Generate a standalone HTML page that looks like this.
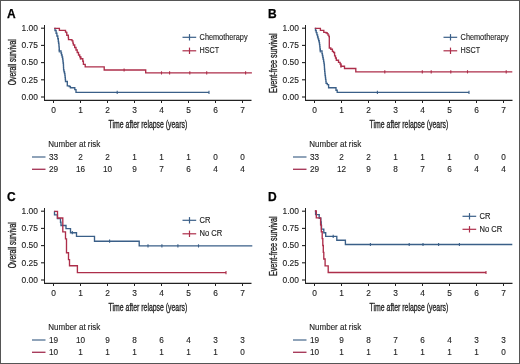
<!DOCTYPE html>
<html><head><meta charset="utf-8"><style>
html,body{margin:0;padding:0;background:#fff;}
svg{display:block;filter:blur(0.30px);font-family:"Liberation Sans",sans-serif;}
</style></head><body>
<svg width="520" height="364" viewBox="0 0 520 364">
<rect x="0" y="0" width="520" height="364" fill="#fff"/>
<g transform="translate(0,0)"><text x="7.1" y="17.5" font-size="12" font-weight="bold" fill="#000" stroke="#000" stroke-width="0.25">A</text><path d="M44.5,25V100.3" fill="none" stroke="#222" stroke-width="1"/><path d="M44,100.3H251.5" fill="none" stroke="#222" stroke-width="1.3"/><line x1="41" y1="28.20" x2="44.5" y2="28.20" stroke="#222" stroke-width="1.1"/><text x="37.90" y="31.00" font-size="8.82" textLength="16.35" lengthAdjust="spacingAndGlyphs" text-anchor="end" fill="#222" stroke="#222" stroke-width="0.12">1.00</text><line x1="41" y1="45.40" x2="44.5" y2="45.40" stroke="#222" stroke-width="1.1"/><text x="37.90" y="48.20" font-size="8.82" textLength="16.35" lengthAdjust="spacingAndGlyphs" text-anchor="end" fill="#222" stroke="#222" stroke-width="0.12">0.75</text><line x1="41" y1="62.60" x2="44.5" y2="62.60" stroke="#222" stroke-width="1.1"/><text x="37.90" y="65.40" font-size="8.82" textLength="16.35" lengthAdjust="spacingAndGlyphs" text-anchor="end" fill="#222" stroke="#222" stroke-width="0.12">0.50</text><line x1="41" y1="79.80" x2="44.5" y2="79.80" stroke="#222" stroke-width="1.1"/><text x="37.90" y="82.60" font-size="8.82" textLength="16.35" lengthAdjust="spacingAndGlyphs" text-anchor="end" fill="#222" stroke="#222" stroke-width="0.12">0.25</text><line x1="41" y1="97.00" x2="44.5" y2="97.00" stroke="#222" stroke-width="1.1"/><text x="37.90" y="99.80" font-size="8.82" textLength="16.35" lengthAdjust="spacingAndGlyphs" text-anchor="end" fill="#222" stroke="#222" stroke-width="0.12">0.00</text><line x1="53.5" y1="100.5" x2="53.5" y2="103" stroke="#222" stroke-width="1"/><text x="53.50" y="113.30" font-size="8.82" textLength="4.67" lengthAdjust="spacingAndGlyphs" text-anchor="middle" fill="#222" stroke="#222" stroke-width="0.12">0</text><line x1="80.5" y1="100.5" x2="80.5" y2="103" stroke="#222" stroke-width="1"/><text x="80.50" y="113.30" font-size="8.82" textLength="4.67" lengthAdjust="spacingAndGlyphs" text-anchor="middle" fill="#222" stroke="#222" stroke-width="0.12">1</text><line x1="107.5" y1="100.5" x2="107.5" y2="103" stroke="#222" stroke-width="1"/><text x="107.50" y="113.30" font-size="8.82" textLength="4.67" lengthAdjust="spacingAndGlyphs" text-anchor="middle" fill="#222" stroke="#222" stroke-width="0.12">2</text><line x1="134.5" y1="100.5" x2="134.5" y2="103" stroke="#222" stroke-width="1"/><text x="134.50" y="113.30" font-size="8.82" textLength="4.67" lengthAdjust="spacingAndGlyphs" text-anchor="middle" fill="#222" stroke="#222" stroke-width="0.12">3</text><line x1="161.5" y1="100.5" x2="161.5" y2="103" stroke="#222" stroke-width="1"/><text x="161.50" y="113.30" font-size="8.82" textLength="4.67" lengthAdjust="spacingAndGlyphs" text-anchor="middle" fill="#222" stroke="#222" stroke-width="0.12">4</text><line x1="188.5" y1="100.5" x2="188.5" y2="103" stroke="#222" stroke-width="1"/><text x="188.50" y="113.30" font-size="8.82" textLength="4.67" lengthAdjust="spacingAndGlyphs" text-anchor="middle" fill="#222" stroke="#222" stroke-width="0.12">5</text><line x1="215.5" y1="100.5" x2="215.5" y2="103" stroke="#222" stroke-width="1"/><text x="215.50" y="113.30" font-size="8.82" textLength="4.67" lengthAdjust="spacingAndGlyphs" text-anchor="middle" fill="#222" stroke="#222" stroke-width="0.12">6</text><line x1="242.5" y1="100.5" x2="242.5" y2="103" stroke="#222" stroke-width="1"/><text x="242.50" y="113.30" font-size="8.82" textLength="4.67" lengthAdjust="spacingAndGlyphs" text-anchor="middle" fill="#222" stroke="#222" stroke-width="0.12">7</text><text x="108.6" y="127.6" font-size="10.3" textLength="78.6" lengthAdjust="spacingAndGlyphs" fill="#222" stroke="#222" stroke-width="0.32">Time after relapse (years)</text><text transform="translate(15.6,62.2) rotate(-90)" x="0" y="0" font-size="10.3" textLength="46.0" lengthAdjust="spacingAndGlyphs" text-anchor="middle" fill="#222" stroke="#222" stroke-width="0.32">Overall survival</text><line x1="182.5" y1="37.3" x2="196.2" y2="37.3" stroke="#3a5f88" stroke-width="1.2"/><line x1="189.5" y1="34.1" x2="189.5" y2="40.5" stroke="#3a5f88" stroke-width="1.2"/><text x="199.60" y="39.80" font-size="8.29" textLength="48.00" lengthAdjust="spacingAndGlyphs" text-anchor="start" fill="#222" stroke="#222" stroke-width="0.12">Chemotherapy</text><line x1="182.5" y1="50.8" x2="196.2" y2="50.8" stroke="#ad2e4a" stroke-width="1.2"/><line x1="189.5" y1="47.6" x2="189.5" y2="54.0" stroke="#ad2e4a" stroke-width="1.2"/><text x="199.60" y="53.30" font-size="8.29" textLength="19.60" lengthAdjust="spacingAndGlyphs" text-anchor="start" fill="#222" stroke="#222" stroke-width="0.12">HSCT</text><text x="48.30" y="147.00" font-size="8.40" textLength="52.00" lengthAdjust="spacingAndGlyphs" text-anchor="start" fill="#222" stroke="#222" stroke-width="0.12">Number at risk</text><line x1="32" y1="157.0" x2="45.5" y2="157.0" stroke="#6a84a2" stroke-width="1.5"/><text x="53.50" y="159.50" font-size="8.61" textLength="9.12" lengthAdjust="spacingAndGlyphs" text-anchor="middle" fill="#222" stroke="#222" stroke-width="0.12">33</text><text x="80.50" y="159.50" font-size="8.61" textLength="4.56" lengthAdjust="spacingAndGlyphs" text-anchor="middle" fill="#222" stroke="#222" stroke-width="0.12">2</text><text x="107.50" y="159.50" font-size="8.61" textLength="4.56" lengthAdjust="spacingAndGlyphs" text-anchor="middle" fill="#222" stroke="#222" stroke-width="0.12">2</text><text x="134.50" y="159.50" font-size="8.61" textLength="4.56" lengthAdjust="spacingAndGlyphs" text-anchor="middle" fill="#222" stroke="#222" stroke-width="0.12">1</text><text x="161.50" y="159.50" font-size="8.61" textLength="4.56" lengthAdjust="spacingAndGlyphs" text-anchor="middle" fill="#222" stroke="#222" stroke-width="0.12">1</text><text x="188.50" y="159.50" font-size="8.61" textLength="4.56" lengthAdjust="spacingAndGlyphs" text-anchor="middle" fill="#222" stroke="#222" stroke-width="0.12">1</text><text x="215.50" y="159.50" font-size="8.61" textLength="4.56" lengthAdjust="spacingAndGlyphs" text-anchor="middle" fill="#222" stroke="#222" stroke-width="0.12">0</text><text x="242.50" y="159.50" font-size="8.61" textLength="4.56" lengthAdjust="spacingAndGlyphs" text-anchor="middle" fill="#222" stroke="#222" stroke-width="0.12">0</text><line x1="32" y1="169.3" x2="45.5" y2="169.3" stroke="#a83c5c" stroke-width="1.4"/><text x="53.50" y="171.80" font-size="8.61" textLength="9.12" lengthAdjust="spacingAndGlyphs" text-anchor="middle" fill="#222" stroke="#222" stroke-width="0.12">29</text><text x="80.50" y="171.80" font-size="8.61" textLength="9.12" lengthAdjust="spacingAndGlyphs" text-anchor="middle" fill="#222" stroke="#222" stroke-width="0.12">16</text><text x="107.50" y="171.80" font-size="8.61" textLength="9.12" lengthAdjust="spacingAndGlyphs" text-anchor="middle" fill="#222" stroke="#222" stroke-width="0.12">10</text><text x="134.50" y="171.80" font-size="8.61" textLength="4.56" lengthAdjust="spacingAndGlyphs" text-anchor="middle" fill="#222" stroke="#222" stroke-width="0.12">9</text><text x="161.50" y="171.80" font-size="8.61" textLength="4.56" lengthAdjust="spacingAndGlyphs" text-anchor="middle" fill="#222" stroke="#222" stroke-width="0.12">7</text><text x="188.50" y="171.80" font-size="8.61" textLength="4.56" lengthAdjust="spacingAndGlyphs" text-anchor="middle" fill="#222" stroke="#222" stroke-width="0.12">6</text><text x="215.50" y="171.80" font-size="8.61" textLength="4.56" lengthAdjust="spacingAndGlyphs" text-anchor="middle" fill="#222" stroke="#222" stroke-width="0.12">4</text><text x="242.50" y="171.80" font-size="8.61" textLength="4.56" lengthAdjust="spacingAndGlyphs" text-anchor="middle" fill="#222" stroke="#222" stroke-width="0.12">4</text></g><path d="M54.3,28.5H55.0V30.5H56.1V33.2H56.9V36.0H57.8V38.7H58.3V41.5H58.6V43.2H58.9V45.0H59.0V46.9H59.2V48.9H59.3V50.8H61.0V53.0H61.5V55.0H62.1V57.0H62.6V59.0H62.9V61.0H63.1V63.0H63.4V65.0H63.5V67.4H63.6V69.8H64.0V71.7H64.5V73.5H64.9V75.4H65.1V77.4H65.3V79.5H65.5V81.5H67.3V85.9H69.2V86.5H70.4V87.7H74.1H74.8V89.6H76.0V92.4H209.0" fill="none" stroke="#3a5f88" stroke-width="1.35"/><line x1="59.3" y1="49.2" x2="59.3" y2="52.4" stroke="#3a5f88" stroke-width="1.1"/><line x1="117.2" y1="90.8" x2="117.2" y2="94.0" stroke="#3a5f88" stroke-width="1.1"/><line x1="209.0" y1="90.8" x2="209.0" y2="94.0" stroke="#3a5f88" stroke-width="1.1"/><path d="M54.2,28.4H59.4V30.3H65.5V32.1H66.6V32.7H66.8V35.2H68.2V35.4H68.3V37.5H68.5V39.6H71.2V39.8H72.1V40.9H72.9V43.1H73.4V45.0H74.7V47.5H76.0V50.0H77.2V52.5H78.5V55.0H79.7V56.9H80.9V58.7H82.8V61.2H83.4V64.3H85.2V66.9H104.2V70.0H145.7V72.9H251.9" fill="none" stroke="#ad2e4a" stroke-width="1.35"/><line x1="80.3" y1="56.2" x2="80.3" y2="59.4" stroke="#ad2e4a" stroke-width="1.1"/><line x1="124.1" y1="68.4" x2="124.1" y2="71.6" stroke="#ad2e4a" stroke-width="1.1"/><line x1="161.5" y1="71.3" x2="161.5" y2="74.5" stroke="#ad2e4a" stroke-width="1.1"/><line x1="169.6" y1="71.3" x2="169.6" y2="74.5" stroke="#ad2e4a" stroke-width="1.1"/><line x1="189.8" y1="71.3" x2="189.8" y2="74.5" stroke="#ad2e4a" stroke-width="1.1"/><line x1="206.7" y1="71.3" x2="206.7" y2="74.5" stroke="#ad2e4a" stroke-width="1.1"/><line x1="245.6" y1="71.3" x2="245.6" y2="74.5" stroke="#ad2e4a" stroke-width="1.1"/><g transform="translate(261,0)"><text x="7.1" y="17.5" font-size="12" font-weight="bold" fill="#000" stroke="#000" stroke-width="0.25">B</text><path d="M44.5,25V100.3" fill="none" stroke="#222" stroke-width="1"/><path d="M44,100.3H251.5" fill="none" stroke="#222" stroke-width="1.3"/><line x1="41" y1="28.20" x2="44.5" y2="28.20" stroke="#222" stroke-width="1.1"/><text x="37.90" y="31.00" font-size="8.82" textLength="16.35" lengthAdjust="spacingAndGlyphs" text-anchor="end" fill="#222" stroke="#222" stroke-width="0.12">1.00</text><line x1="41" y1="45.40" x2="44.5" y2="45.40" stroke="#222" stroke-width="1.1"/><text x="37.90" y="48.20" font-size="8.82" textLength="16.35" lengthAdjust="spacingAndGlyphs" text-anchor="end" fill="#222" stroke="#222" stroke-width="0.12">0.75</text><line x1="41" y1="62.60" x2="44.5" y2="62.60" stroke="#222" stroke-width="1.1"/><text x="37.90" y="65.40" font-size="8.82" textLength="16.35" lengthAdjust="spacingAndGlyphs" text-anchor="end" fill="#222" stroke="#222" stroke-width="0.12">0.50</text><line x1="41" y1="79.80" x2="44.5" y2="79.80" stroke="#222" stroke-width="1.1"/><text x="37.90" y="82.60" font-size="8.82" textLength="16.35" lengthAdjust="spacingAndGlyphs" text-anchor="end" fill="#222" stroke="#222" stroke-width="0.12">0.25</text><line x1="41" y1="97.00" x2="44.5" y2="97.00" stroke="#222" stroke-width="1.1"/><text x="37.90" y="99.80" font-size="8.82" textLength="16.35" lengthAdjust="spacingAndGlyphs" text-anchor="end" fill="#222" stroke="#222" stroke-width="0.12">0.00</text><line x1="53.5" y1="100.5" x2="53.5" y2="103" stroke="#222" stroke-width="1"/><text x="53.50" y="113.30" font-size="8.82" textLength="4.67" lengthAdjust="spacingAndGlyphs" text-anchor="middle" fill="#222" stroke="#222" stroke-width="0.12">0</text><line x1="80.5" y1="100.5" x2="80.5" y2="103" stroke="#222" stroke-width="1"/><text x="80.50" y="113.30" font-size="8.82" textLength="4.67" lengthAdjust="spacingAndGlyphs" text-anchor="middle" fill="#222" stroke="#222" stroke-width="0.12">1</text><line x1="107.5" y1="100.5" x2="107.5" y2="103" stroke="#222" stroke-width="1"/><text x="107.50" y="113.30" font-size="8.82" textLength="4.67" lengthAdjust="spacingAndGlyphs" text-anchor="middle" fill="#222" stroke="#222" stroke-width="0.12">2</text><line x1="134.5" y1="100.5" x2="134.5" y2="103" stroke="#222" stroke-width="1"/><text x="134.50" y="113.30" font-size="8.82" textLength="4.67" lengthAdjust="spacingAndGlyphs" text-anchor="middle" fill="#222" stroke="#222" stroke-width="0.12">3</text><line x1="161.5" y1="100.5" x2="161.5" y2="103" stroke="#222" stroke-width="1"/><text x="161.50" y="113.30" font-size="8.82" textLength="4.67" lengthAdjust="spacingAndGlyphs" text-anchor="middle" fill="#222" stroke="#222" stroke-width="0.12">4</text><line x1="188.5" y1="100.5" x2="188.5" y2="103" stroke="#222" stroke-width="1"/><text x="188.50" y="113.30" font-size="8.82" textLength="4.67" lengthAdjust="spacingAndGlyphs" text-anchor="middle" fill="#222" stroke="#222" stroke-width="0.12">5</text><line x1="215.5" y1="100.5" x2="215.5" y2="103" stroke="#222" stroke-width="1"/><text x="215.50" y="113.30" font-size="8.82" textLength="4.67" lengthAdjust="spacingAndGlyphs" text-anchor="middle" fill="#222" stroke="#222" stroke-width="0.12">6</text><line x1="242.5" y1="100.5" x2="242.5" y2="103" stroke="#222" stroke-width="1"/><text x="242.50" y="113.30" font-size="8.82" textLength="4.67" lengthAdjust="spacingAndGlyphs" text-anchor="middle" fill="#222" stroke="#222" stroke-width="0.12">7</text><text x="108.6" y="127.6" font-size="10.3" textLength="78.6" lengthAdjust="spacingAndGlyphs" fill="#222" stroke="#222" stroke-width="0.32">Time after relapse (years)</text><text transform="translate(15.6,63.3) rotate(-90)" x="0" y="0" font-size="10.3" textLength="59.6" lengthAdjust="spacingAndGlyphs" text-anchor="middle" fill="#222" stroke="#222" stroke-width="0.32">Event-free survival</text><line x1="182.5" y1="37.3" x2="196.2" y2="37.3" stroke="#3a5f88" stroke-width="1.2"/><line x1="189.5" y1="34.1" x2="189.5" y2="40.5" stroke="#3a5f88" stroke-width="1.2"/><text x="199.60" y="39.80" font-size="8.29" textLength="48.00" lengthAdjust="spacingAndGlyphs" text-anchor="start" fill="#222" stroke="#222" stroke-width="0.12">Chemotherapy</text><line x1="182.5" y1="50.8" x2="196.2" y2="50.8" stroke="#ad2e4a" stroke-width="1.2"/><line x1="189.5" y1="47.6" x2="189.5" y2="54.0" stroke="#ad2e4a" stroke-width="1.2"/><text x="199.60" y="53.30" font-size="8.29" textLength="19.60" lengthAdjust="spacingAndGlyphs" text-anchor="start" fill="#222" stroke="#222" stroke-width="0.12">HSCT</text><text x="48.30" y="147.00" font-size="8.40" textLength="52.00" lengthAdjust="spacingAndGlyphs" text-anchor="start" fill="#222" stroke="#222" stroke-width="0.12">Number at risk</text><line x1="32" y1="157.0" x2="45.5" y2="157.0" stroke="#6a84a2" stroke-width="1.5"/><text x="53.50" y="159.50" font-size="8.61" textLength="9.12" lengthAdjust="spacingAndGlyphs" text-anchor="middle" fill="#222" stroke="#222" stroke-width="0.12">33</text><text x="80.50" y="159.50" font-size="8.61" textLength="4.56" lengthAdjust="spacingAndGlyphs" text-anchor="middle" fill="#222" stroke="#222" stroke-width="0.12">2</text><text x="107.50" y="159.50" font-size="8.61" textLength="4.56" lengthAdjust="spacingAndGlyphs" text-anchor="middle" fill="#222" stroke="#222" stroke-width="0.12">2</text><text x="134.50" y="159.50" font-size="8.61" textLength="4.56" lengthAdjust="spacingAndGlyphs" text-anchor="middle" fill="#222" stroke="#222" stroke-width="0.12">1</text><text x="161.50" y="159.50" font-size="8.61" textLength="4.56" lengthAdjust="spacingAndGlyphs" text-anchor="middle" fill="#222" stroke="#222" stroke-width="0.12">1</text><text x="188.50" y="159.50" font-size="8.61" textLength="4.56" lengthAdjust="spacingAndGlyphs" text-anchor="middle" fill="#222" stroke="#222" stroke-width="0.12">1</text><text x="215.50" y="159.50" font-size="8.61" textLength="4.56" lengthAdjust="spacingAndGlyphs" text-anchor="middle" fill="#222" stroke="#222" stroke-width="0.12">0</text><text x="242.50" y="159.50" font-size="8.61" textLength="4.56" lengthAdjust="spacingAndGlyphs" text-anchor="middle" fill="#222" stroke="#222" stroke-width="0.12">0</text><line x1="32" y1="169.3" x2="45.5" y2="169.3" stroke="#a83c5c" stroke-width="1.4"/><text x="53.50" y="171.80" font-size="8.61" textLength="9.12" lengthAdjust="spacingAndGlyphs" text-anchor="middle" fill="#222" stroke="#222" stroke-width="0.12">29</text><text x="80.50" y="171.80" font-size="8.61" textLength="9.12" lengthAdjust="spacingAndGlyphs" text-anchor="middle" fill="#222" stroke="#222" stroke-width="0.12">12</text><text x="107.50" y="171.80" font-size="8.61" textLength="4.56" lengthAdjust="spacingAndGlyphs" text-anchor="middle" fill="#222" stroke="#222" stroke-width="0.12">9</text><text x="134.50" y="171.80" font-size="8.61" textLength="4.56" lengthAdjust="spacingAndGlyphs" text-anchor="middle" fill="#222" stroke="#222" stroke-width="0.12">8</text><text x="161.50" y="171.80" font-size="8.61" textLength="4.56" lengthAdjust="spacingAndGlyphs" text-anchor="middle" fill="#222" stroke="#222" stroke-width="0.12">7</text><text x="188.50" y="171.80" font-size="8.61" textLength="4.56" lengthAdjust="spacingAndGlyphs" text-anchor="middle" fill="#222" stroke="#222" stroke-width="0.12">6</text><text x="215.50" y="171.80" font-size="8.61" textLength="4.56" lengthAdjust="spacingAndGlyphs" text-anchor="middle" fill="#222" stroke="#222" stroke-width="0.12">4</text><text x="242.50" y="171.80" font-size="8.61" textLength="4.56" lengthAdjust="spacingAndGlyphs" text-anchor="middle" fill="#222" stroke="#222" stroke-width="0.12">4</text></g><path d="M314.8,28.3H315.5V30.5H316.2V32.6H316.9V34.8H317.6V37.0H318.1V38.9H318.7V40.7H319.2V42.6H319.5V44.6H319.8V46.7H320.0V48.8H320.3V50.8H322.0V53.6H322.4V55.5H322.8V57.5H323.2V59.4H323.6V61.3H323.9V63.1H324.2V65.0H324.4V67.1H324.5V69.2H324.7V71.4H324.9V73.5H325.1V75.5H325.4V77.5H325.6V79.4H325.9V81.4H326.1V83.4H327.3V84.6H328.6V87.7H335.4H336.0V90.2H337.2V92.3H469.0" fill="none" stroke="#3a5f88" stroke-width="1.35"/><line x1="320.3" y1="49.2" x2="320.3" y2="52.4" stroke="#3a5f88" stroke-width="1.1"/><line x1="377.4" y1="90.7" x2="377.4" y2="93.9" stroke="#3a5f88" stroke-width="1.1"/><line x1="469.0" y1="90.7" x2="469.0" y2="93.9" stroke="#3a5f88" stroke-width="1.1"/><path d="M314.8,28.3H320.4V30.3H323.2H323.8V32.4H325.9V32.7H327.1V33.6H328.0V35.1H328.9V36.6H329.3V37.5V48.0H330.8V49.2H332.4V51.4H333.5V52.5H334.6V55.8H335.5V58.0H336.3V60.2H338.5V62.4H340.1V64.0H341.0V66.2H344.5V68.5H355.8V71.8H512.3" fill="none" stroke="#ad2e4a" stroke-width="1.35"/><line x1="341.0" y1="64.6" x2="341.0" y2="67.8" stroke="#ad2e4a" stroke-width="1.1"/><line x1="384.8" y1="70.2" x2="384.8" y2="73.4" stroke="#ad2e4a" stroke-width="1.1"/><line x1="422.3" y1="70.2" x2="422.3" y2="73.4" stroke="#ad2e4a" stroke-width="1.1"/><line x1="431.2" y1="70.2" x2="431.2" y2="73.4" stroke="#ad2e4a" stroke-width="1.1"/><line x1="450.8" y1="70.2" x2="450.8" y2="73.4" stroke="#ad2e4a" stroke-width="1.1"/><line x1="467.5" y1="70.2" x2="467.5" y2="73.4" stroke="#ad2e4a" stroke-width="1.1"/><line x1="506.2" y1="70.2" x2="506.2" y2="73.4" stroke="#ad2e4a" stroke-width="1.1"/><g transform="translate(0,183)"><text x="7.1" y="17.5" font-size="12" font-weight="bold" fill="#000" stroke="#000" stroke-width="0.25">C</text><path d="M44.5,25V100.3" fill="none" stroke="#222" stroke-width="1"/><path d="M44,100.3H251.5" fill="none" stroke="#222" stroke-width="1.3"/><line x1="41" y1="28.20" x2="44.5" y2="28.20" stroke="#222" stroke-width="1.1"/><text x="37.90" y="31.00" font-size="8.82" textLength="16.35" lengthAdjust="spacingAndGlyphs" text-anchor="end" fill="#222" stroke="#222" stroke-width="0.12">1.00</text><line x1="41" y1="45.40" x2="44.5" y2="45.40" stroke="#222" stroke-width="1.1"/><text x="37.90" y="48.20" font-size="8.82" textLength="16.35" lengthAdjust="spacingAndGlyphs" text-anchor="end" fill="#222" stroke="#222" stroke-width="0.12">0.75</text><line x1="41" y1="62.60" x2="44.5" y2="62.60" stroke="#222" stroke-width="1.1"/><text x="37.90" y="65.40" font-size="8.82" textLength="16.35" lengthAdjust="spacingAndGlyphs" text-anchor="end" fill="#222" stroke="#222" stroke-width="0.12">0.50</text><line x1="41" y1="79.80" x2="44.5" y2="79.80" stroke="#222" stroke-width="1.1"/><text x="37.90" y="82.60" font-size="8.82" textLength="16.35" lengthAdjust="spacingAndGlyphs" text-anchor="end" fill="#222" stroke="#222" stroke-width="0.12">0.25</text><line x1="41" y1="97.00" x2="44.5" y2="97.00" stroke="#222" stroke-width="1.1"/><text x="37.90" y="99.80" font-size="8.82" textLength="16.35" lengthAdjust="spacingAndGlyphs" text-anchor="end" fill="#222" stroke="#222" stroke-width="0.12">0.00</text><line x1="53.5" y1="100.5" x2="53.5" y2="103" stroke="#222" stroke-width="1"/><text x="53.50" y="113.30" font-size="8.82" textLength="4.67" lengthAdjust="spacingAndGlyphs" text-anchor="middle" fill="#222" stroke="#222" stroke-width="0.12">0</text><line x1="80.5" y1="100.5" x2="80.5" y2="103" stroke="#222" stroke-width="1"/><text x="80.50" y="113.30" font-size="8.82" textLength="4.67" lengthAdjust="spacingAndGlyphs" text-anchor="middle" fill="#222" stroke="#222" stroke-width="0.12">1</text><line x1="107.5" y1="100.5" x2="107.5" y2="103" stroke="#222" stroke-width="1"/><text x="107.50" y="113.30" font-size="8.82" textLength="4.67" lengthAdjust="spacingAndGlyphs" text-anchor="middle" fill="#222" stroke="#222" stroke-width="0.12">2</text><line x1="134.5" y1="100.5" x2="134.5" y2="103" stroke="#222" stroke-width="1"/><text x="134.50" y="113.30" font-size="8.82" textLength="4.67" lengthAdjust="spacingAndGlyphs" text-anchor="middle" fill="#222" stroke="#222" stroke-width="0.12">3</text><line x1="161.5" y1="100.5" x2="161.5" y2="103" stroke="#222" stroke-width="1"/><text x="161.50" y="113.30" font-size="8.82" textLength="4.67" lengthAdjust="spacingAndGlyphs" text-anchor="middle" fill="#222" stroke="#222" stroke-width="0.12">4</text><line x1="188.5" y1="100.5" x2="188.5" y2="103" stroke="#222" stroke-width="1"/><text x="188.50" y="113.30" font-size="8.82" textLength="4.67" lengthAdjust="spacingAndGlyphs" text-anchor="middle" fill="#222" stroke="#222" stroke-width="0.12">5</text><line x1="215.5" y1="100.5" x2="215.5" y2="103" stroke="#222" stroke-width="1"/><text x="215.50" y="113.30" font-size="8.82" textLength="4.67" lengthAdjust="spacingAndGlyphs" text-anchor="middle" fill="#222" stroke="#222" stroke-width="0.12">6</text><line x1="242.5" y1="100.5" x2="242.5" y2="103" stroke="#222" stroke-width="1"/><text x="242.50" y="113.30" font-size="8.82" textLength="4.67" lengthAdjust="spacingAndGlyphs" text-anchor="middle" fill="#222" stroke="#222" stroke-width="0.12">7</text><text x="108.6" y="127.6" font-size="10.3" textLength="78.6" lengthAdjust="spacingAndGlyphs" fill="#222" stroke="#222" stroke-width="0.32">Time after relapse (years)</text><text transform="translate(15.6,62.2) rotate(-90)" x="0" y="0" font-size="10.3" textLength="46.0" lengthAdjust="spacingAndGlyphs" text-anchor="middle" fill="#222" stroke="#222" stroke-width="0.32">Overall survival</text><line x1="182.5" y1="37.3" x2="196.2" y2="37.3" stroke="#3a5f88" stroke-width="1.2"/><line x1="189.5" y1="34.1" x2="189.5" y2="40.5" stroke="#3a5f88" stroke-width="1.2"/><text x="199.60" y="39.80" font-size="8.29" textLength="10.90" lengthAdjust="spacingAndGlyphs" text-anchor="start" fill="#222" stroke="#222" stroke-width="0.12">CR</text><line x1="182.5" y1="50.8" x2="196.2" y2="50.8" stroke="#ad2e4a" stroke-width="1.2"/><line x1="189.5" y1="47.6" x2="189.5" y2="54.0" stroke="#ad2e4a" stroke-width="1.2"/><text x="199.60" y="53.30" font-size="8.29" textLength="22.70" lengthAdjust="spacingAndGlyphs" text-anchor="start" fill="#222" stroke="#222" stroke-width="0.12">No CR</text><text x="48.30" y="147.00" font-size="8.40" textLength="52.00" lengthAdjust="spacingAndGlyphs" text-anchor="start" fill="#222" stroke="#222" stroke-width="0.12">Number at risk</text><line x1="32" y1="157.0" x2="45.5" y2="157.0" stroke="#6a84a2" stroke-width="1.5"/><text x="53.50" y="159.50" font-size="8.61" textLength="9.12" lengthAdjust="spacingAndGlyphs" text-anchor="middle" fill="#222" stroke="#222" stroke-width="0.12">19</text><text x="80.50" y="159.50" font-size="8.61" textLength="9.12" lengthAdjust="spacingAndGlyphs" text-anchor="middle" fill="#222" stroke="#222" stroke-width="0.12">10</text><text x="107.50" y="159.50" font-size="8.61" textLength="4.56" lengthAdjust="spacingAndGlyphs" text-anchor="middle" fill="#222" stroke="#222" stroke-width="0.12">9</text><text x="134.50" y="159.50" font-size="8.61" textLength="4.56" lengthAdjust="spacingAndGlyphs" text-anchor="middle" fill="#222" stroke="#222" stroke-width="0.12">8</text><text x="161.50" y="159.50" font-size="8.61" textLength="4.56" lengthAdjust="spacingAndGlyphs" text-anchor="middle" fill="#222" stroke="#222" stroke-width="0.12">6</text><text x="188.50" y="159.50" font-size="8.61" textLength="4.56" lengthAdjust="spacingAndGlyphs" text-anchor="middle" fill="#222" stroke="#222" stroke-width="0.12">4</text><text x="215.50" y="159.50" font-size="8.61" textLength="4.56" lengthAdjust="spacingAndGlyphs" text-anchor="middle" fill="#222" stroke="#222" stroke-width="0.12">3</text><text x="242.50" y="159.50" font-size="8.61" textLength="4.56" lengthAdjust="spacingAndGlyphs" text-anchor="middle" fill="#222" stroke="#222" stroke-width="0.12">3</text><line x1="32" y1="169.3" x2="45.5" y2="169.3" stroke="#a83c5c" stroke-width="1.4"/><text x="53.50" y="171.80" font-size="8.61" textLength="9.12" lengthAdjust="spacingAndGlyphs" text-anchor="middle" fill="#222" stroke="#222" stroke-width="0.12">10</text><text x="80.50" y="171.80" font-size="8.61" textLength="4.56" lengthAdjust="spacingAndGlyphs" text-anchor="middle" fill="#222" stroke="#222" stroke-width="0.12">1</text><text x="107.50" y="171.80" font-size="8.61" textLength="4.56" lengthAdjust="spacingAndGlyphs" text-anchor="middle" fill="#222" stroke="#222" stroke-width="0.12">1</text><text x="134.50" y="171.80" font-size="8.61" textLength="4.56" lengthAdjust="spacingAndGlyphs" text-anchor="middle" fill="#222" stroke="#222" stroke-width="0.12">1</text><text x="161.50" y="171.80" font-size="8.61" textLength="4.56" lengthAdjust="spacingAndGlyphs" text-anchor="middle" fill="#222" stroke="#222" stroke-width="0.12">1</text><text x="188.50" y="171.80" font-size="8.61" textLength="4.56" lengthAdjust="spacingAndGlyphs" text-anchor="middle" fill="#222" stroke="#222" stroke-width="0.12">1</text><text x="215.50" y="171.80" font-size="8.61" textLength="4.56" lengthAdjust="spacingAndGlyphs" text-anchor="middle" fill="#222" stroke="#222" stroke-width="0.12">1</text><text x="242.50" y="171.80" font-size="8.61" textLength="4.56" lengthAdjust="spacingAndGlyphs" text-anchor="middle" fill="#222" stroke="#222" stroke-width="0.12">0</text></g><path d="M54.3,211.3H54.5V214.9H57.4V218.6H60.5V222.2H61.0V225.5H66.0V228.6H70.5V232.7H76.5V236.4H94.5V241.2H139.2V245.9H252.3" fill="none" stroke="#3a5f88" stroke-width="1.35"/><line x1="72.3" y1="231.1" x2="72.3" y2="234.3" stroke="#3a5f88" stroke-width="1.1"/><line x1="109.6" y1="239.6" x2="109.6" y2="242.8" stroke="#3a5f88" stroke-width="1.1"/><line x1="148.0" y1="244.3" x2="148.0" y2="247.5" stroke="#3a5f88" stroke-width="1.1"/><line x1="161.9" y1="244.3" x2="161.9" y2="247.5" stroke="#3a5f88" stroke-width="1.1"/><line x1="177.9" y1="244.3" x2="177.9" y2="247.5" stroke="#3a5f88" stroke-width="1.1"/><line x1="198.5" y1="244.3" x2="198.5" y2="247.5" stroke="#3a5f88" stroke-width="1.1"/><path d="M54.3,211.3H57.5V218.0H62.8V231.9H65.5V238.9H66.5V252.7H68.5V259.6H69.5V265.7H77.4V272.6H226.0" fill="none" stroke="#ad2e4a" stroke-width="1.35"/><line x1="226.0" y1="271.0" x2="226.0" y2="274.2" stroke="#ad2e4a" stroke-width="1.1"/><g transform="translate(261,183)"><text x="7.1" y="17.5" font-size="12" font-weight="bold" fill="#000" stroke="#000" stroke-width="0.25">D</text><path d="M44.5,25V100.3" fill="none" stroke="#222" stroke-width="1"/><path d="M44,100.3H251.5" fill="none" stroke="#222" stroke-width="1.3"/><line x1="41" y1="28.20" x2="44.5" y2="28.20" stroke="#222" stroke-width="1.1"/><text x="37.90" y="31.00" font-size="8.82" textLength="16.35" lengthAdjust="spacingAndGlyphs" text-anchor="end" fill="#222" stroke="#222" stroke-width="0.12">1.00</text><line x1="41" y1="45.40" x2="44.5" y2="45.40" stroke="#222" stroke-width="1.1"/><text x="37.90" y="48.20" font-size="8.82" textLength="16.35" lengthAdjust="spacingAndGlyphs" text-anchor="end" fill="#222" stroke="#222" stroke-width="0.12">0.75</text><line x1="41" y1="62.60" x2="44.5" y2="62.60" stroke="#222" stroke-width="1.1"/><text x="37.90" y="65.40" font-size="8.82" textLength="16.35" lengthAdjust="spacingAndGlyphs" text-anchor="end" fill="#222" stroke="#222" stroke-width="0.12">0.50</text><line x1="41" y1="79.80" x2="44.5" y2="79.80" stroke="#222" stroke-width="1.1"/><text x="37.90" y="82.60" font-size="8.82" textLength="16.35" lengthAdjust="spacingAndGlyphs" text-anchor="end" fill="#222" stroke="#222" stroke-width="0.12">0.25</text><line x1="41" y1="97.00" x2="44.5" y2="97.00" stroke="#222" stroke-width="1.1"/><text x="37.90" y="99.80" font-size="8.82" textLength="16.35" lengthAdjust="spacingAndGlyphs" text-anchor="end" fill="#222" stroke="#222" stroke-width="0.12">0.00</text><line x1="53.5" y1="100.5" x2="53.5" y2="103" stroke="#222" stroke-width="1"/><text x="53.50" y="113.30" font-size="8.82" textLength="4.67" lengthAdjust="spacingAndGlyphs" text-anchor="middle" fill="#222" stroke="#222" stroke-width="0.12">0</text><line x1="80.5" y1="100.5" x2="80.5" y2="103" stroke="#222" stroke-width="1"/><text x="80.50" y="113.30" font-size="8.82" textLength="4.67" lengthAdjust="spacingAndGlyphs" text-anchor="middle" fill="#222" stroke="#222" stroke-width="0.12">1</text><line x1="107.5" y1="100.5" x2="107.5" y2="103" stroke="#222" stroke-width="1"/><text x="107.50" y="113.30" font-size="8.82" textLength="4.67" lengthAdjust="spacingAndGlyphs" text-anchor="middle" fill="#222" stroke="#222" stroke-width="0.12">2</text><line x1="134.5" y1="100.5" x2="134.5" y2="103" stroke="#222" stroke-width="1"/><text x="134.50" y="113.30" font-size="8.82" textLength="4.67" lengthAdjust="spacingAndGlyphs" text-anchor="middle" fill="#222" stroke="#222" stroke-width="0.12">3</text><line x1="161.5" y1="100.5" x2="161.5" y2="103" stroke="#222" stroke-width="1"/><text x="161.50" y="113.30" font-size="8.82" textLength="4.67" lengthAdjust="spacingAndGlyphs" text-anchor="middle" fill="#222" stroke="#222" stroke-width="0.12">4</text><line x1="188.5" y1="100.5" x2="188.5" y2="103" stroke="#222" stroke-width="1"/><text x="188.50" y="113.30" font-size="8.82" textLength="4.67" lengthAdjust="spacingAndGlyphs" text-anchor="middle" fill="#222" stroke="#222" stroke-width="0.12">5</text><line x1="215.5" y1="100.5" x2="215.5" y2="103" stroke="#222" stroke-width="1"/><text x="215.50" y="113.30" font-size="8.82" textLength="4.67" lengthAdjust="spacingAndGlyphs" text-anchor="middle" fill="#222" stroke="#222" stroke-width="0.12">6</text><line x1="242.5" y1="100.5" x2="242.5" y2="103" stroke="#222" stroke-width="1"/><text x="242.50" y="113.30" font-size="8.82" textLength="4.67" lengthAdjust="spacingAndGlyphs" text-anchor="middle" fill="#222" stroke="#222" stroke-width="0.12">7</text><text x="108.6" y="127.6" font-size="10.3" textLength="78.6" lengthAdjust="spacingAndGlyphs" fill="#222" stroke="#222" stroke-width="0.32">Time after relapse (years)</text><text transform="translate(15.6,63.3) rotate(-90)" x="0" y="0" font-size="10.3" textLength="59.6" lengthAdjust="spacingAndGlyphs" text-anchor="middle" fill="#222" stroke="#222" stroke-width="0.32">Event-free survival</text><line x1="201.5" y1="33.3" x2="215.2" y2="33.3" stroke="#3a5f88" stroke-width="1.2"/><line x1="208.5" y1="30.1" x2="208.5" y2="36.5" stroke="#3a5f88" stroke-width="1.2"/><text x="218.60" y="35.80" font-size="8.29" textLength="10.90" lengthAdjust="spacingAndGlyphs" text-anchor="start" fill="#222" stroke="#222" stroke-width="0.12">CR</text><line x1="201.5" y1="46.3" x2="215.2" y2="46.3" stroke="#ad2e4a" stroke-width="1.2"/><line x1="208.5" y1="43.1" x2="208.5" y2="49.5" stroke="#ad2e4a" stroke-width="1.2"/><text x="218.60" y="48.80" font-size="8.29" textLength="22.70" lengthAdjust="spacingAndGlyphs" text-anchor="start" fill="#222" stroke="#222" stroke-width="0.12">No CR</text><text x="48.30" y="147.00" font-size="8.40" textLength="52.00" lengthAdjust="spacingAndGlyphs" text-anchor="start" fill="#222" stroke="#222" stroke-width="0.12">Number at risk</text><line x1="32" y1="157.0" x2="45.5" y2="157.0" stroke="#6a84a2" stroke-width="1.5"/><text x="53.50" y="159.50" font-size="8.61" textLength="9.12" lengthAdjust="spacingAndGlyphs" text-anchor="middle" fill="#222" stroke="#222" stroke-width="0.12">19</text><text x="80.50" y="159.50" font-size="8.61" textLength="4.56" lengthAdjust="spacingAndGlyphs" text-anchor="middle" fill="#222" stroke="#222" stroke-width="0.12">9</text><text x="107.50" y="159.50" font-size="8.61" textLength="4.56" lengthAdjust="spacingAndGlyphs" text-anchor="middle" fill="#222" stroke="#222" stroke-width="0.12">8</text><text x="134.50" y="159.50" font-size="8.61" textLength="4.56" lengthAdjust="spacingAndGlyphs" text-anchor="middle" fill="#222" stroke="#222" stroke-width="0.12">7</text><text x="161.50" y="159.50" font-size="8.61" textLength="4.56" lengthAdjust="spacingAndGlyphs" text-anchor="middle" fill="#222" stroke="#222" stroke-width="0.12">6</text><text x="188.50" y="159.50" font-size="8.61" textLength="4.56" lengthAdjust="spacingAndGlyphs" text-anchor="middle" fill="#222" stroke="#222" stroke-width="0.12">4</text><text x="215.50" y="159.50" font-size="8.61" textLength="4.56" lengthAdjust="spacingAndGlyphs" text-anchor="middle" fill="#222" stroke="#222" stroke-width="0.12">3</text><text x="242.50" y="159.50" font-size="8.61" textLength="4.56" lengthAdjust="spacingAndGlyphs" text-anchor="middle" fill="#222" stroke="#222" stroke-width="0.12">3</text><line x1="32" y1="169.3" x2="45.5" y2="169.3" stroke="#a83c5c" stroke-width="1.4"/><text x="53.50" y="171.80" font-size="8.61" textLength="9.12" lengthAdjust="spacingAndGlyphs" text-anchor="middle" fill="#222" stroke="#222" stroke-width="0.12">10</text><text x="80.50" y="171.80" font-size="8.61" textLength="4.56" lengthAdjust="spacingAndGlyphs" text-anchor="middle" fill="#222" stroke="#222" stroke-width="0.12">1</text><text x="107.50" y="171.80" font-size="8.61" textLength="4.56" lengthAdjust="spacingAndGlyphs" text-anchor="middle" fill="#222" stroke="#222" stroke-width="0.12">1</text><text x="134.50" y="171.80" font-size="8.61" textLength="4.56" lengthAdjust="spacingAndGlyphs" text-anchor="middle" fill="#222" stroke="#222" stroke-width="0.12">1</text><text x="161.50" y="171.80" font-size="8.61" textLength="4.56" lengthAdjust="spacingAndGlyphs" text-anchor="middle" fill="#222" stroke="#222" stroke-width="0.12">1</text><text x="188.50" y="171.80" font-size="8.61" textLength="4.56" lengthAdjust="spacingAndGlyphs" text-anchor="middle" fill="#222" stroke="#222" stroke-width="0.12">1</text><text x="215.50" y="171.80" font-size="8.61" textLength="4.56" lengthAdjust="spacingAndGlyphs" text-anchor="middle" fill="#222" stroke="#222" stroke-width="0.12">1</text><text x="242.50" y="171.80" font-size="8.61" textLength="4.56" lengthAdjust="spacingAndGlyphs" text-anchor="middle" fill="#222" stroke="#222" stroke-width="0.12">0</text></g><path d="M314.9,211.0H315.6V214.6H319.2V218.2H320.8V221.9H321.2V225.5H321.5V229.1H323.8V232.7H325.7V236.3H336.8V240.2H345.4V244.5H512.3" fill="none" stroke="#3a5f88" stroke-width="1.35"/><line x1="333.2" y1="234.7" x2="333.2" y2="237.9" stroke="#3a5f88" stroke-width="1.1"/><line x1="370.4" y1="242.9" x2="370.4" y2="246.1" stroke="#3a5f88" stroke-width="1.1"/><line x1="409.2" y1="242.9" x2="409.2" y2="246.1" stroke="#3a5f88" stroke-width="1.1"/><line x1="423.0" y1="242.9" x2="423.0" y2="246.1" stroke="#3a5f88" stroke-width="1.1"/><line x1="438.6" y1="242.9" x2="438.6" y2="246.1" stroke="#3a5f88" stroke-width="1.1"/><line x1="459.4" y1="242.9" x2="459.4" y2="246.1" stroke="#3a5f88" stroke-width="1.1"/><path d="M314.9,211.0H316.3V217.9H320.6V224.8H321.3V231.7H322.2V238.6H322.8V245.5H323.3V252.4H323.8V259.0H325.1V265.8H328.2V272.5H486.0" fill="none" stroke="#ad2e4a" stroke-width="1.35"/><line x1="486.0" y1="270.9" x2="486.0" y2="274.1" stroke="#ad2e4a" stroke-width="1.1"/>
<rect x="0.5" y="0.5" width="519" height="363" fill="none" stroke="#555" stroke-width="1"/>
</svg>
</body></html>
